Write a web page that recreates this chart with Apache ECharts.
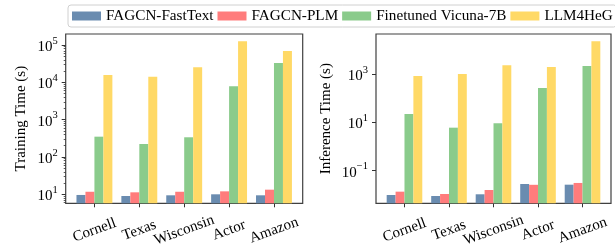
<!DOCTYPE html>
<html>
<head>
<meta charset="utf-8">
<script src="https://cdn.jsdelivr.net/npm/echarts@6/dist/echarts.min.js"></script>
<style>html,body{margin:0;padding:0;background:#fff;}#c{width:615px;height:250px;}</style>
</head>
<body>
<div id="c"></div>
<script>
const categories = ['Cornell', 'Texas', 'Wisconsin', 'Actor', 'Amazon'];
const seriesNames = ['FAGCN-FastText', 'FAGCN-PLM', 'Finetuned Vicuna-7B', 'LLM4HeG'];
const trainFastText = [9.6, 9.0, 9.4, 10.0, 9.4];
const trainPLM = [11.7, 11.3, 11.7, 12.0, 13.3];
const trainVicuna = [350, 223, 337, 7850, 33000];
const trainLLM4HeG = [15800, 14000, 25400, 126000, 69500];
const inferFastText = [0.0098, 0.0089, 0.0105, 0.028, 0.0263];
const inferPLM = [0.0135, 0.0108, 0.0158, 0.026, 0.031];
const inferVicuna = [22.5, 6.1, 9.3, 270, 2210];
const inferLLM4HeG = [850, 1030, 2360, 2010, 23400];
const trainTicks = [10, 100, 1000, 10000, 100000];
const inferTicks = [0.1, 10, 1000];

const colors = ['#6a8cb0', '#ff7c7c', '#8acb8b', '#ffd966'];
const FONT = 'Liberation Serif';
const trainMin = 5.74, trainMax = 197000;
const inferMin = 0.00444, inferMax = 47000;

// minor ticks for left log axis (2..9 x each decade)
const trainMinor = [];
for (let e = 0; e <= 5; e++) for (let m = 2; m <= 9; m++) {
  const v = m * Math.pow(10, e);
  if (v > trainMin && v < trainMax) trainMinor.push(v);
}

function expLabel(v) {
  const e = Math.round(Math.log10(v));
  return '{b|10}{s|' + (e < 0 ? '\u2212' + (-e) : e) + '}';
}
const richLab = {
  b: {fontFamily: FONT, fontSize: 15, color: '#000', lineHeight: 19, verticalAlign: 'bottom'},
  s: {fontFamily: FONT, fontSize: 10.5, color: '#000', lineHeight: 11, verticalAlign: 'top'}
};

function xAxis(gi) {
  return {
    type: 'value', gridIndex: gi, min: -0.64, max: 4.64,
    splitLine: {show: false},
    axisLine: {show: false, onZero: false},
    axisTick: {show: true, length: 4, customValues: [0, 1, 2, 3, 4], lineStyle: {color: '#333', width: 1}},
    axisLabel: {
      customValues: [0, 1, 2, 3, 4],
      formatter: v => categories[Math.round(v)],
      rotate: 20, align: 'center', verticalAlign: 'middle', margin: 27,
      fontFamily: FONT, fontSize: 15, color: '#000'
    }
  };
}

function yMain(gi, min, max, ticks, name, gap) {
  return {
    type: 'log', logBase: 10, gridIndex: gi, position: 'left', min: min, max: max, startValue: min,
    name: name, nameLocation: 'middle', nameGap: gap,
    nameTextStyle: {fontFamily: FONT, fontSize: 15, color: '#000'},
    splitLine: {show: false},
    axisLine: {show: false, onZero: false},
    axisTick: {show: true, length: 4, customValues: ticks, lineStyle: {color: '#333', width: 1}},
    axisLabel: {customValues: ticks, formatter: expLabel, rich: richLab, margin: 8}
  };
}

const trainSets = [trainFastText, trainPLM, trainVicuna, trainLLM4HeG];
const inferSets = [inferFastText, inferPLM, inferVicuna, inferLLM4HeG];
const series = [];
seriesNames.forEach((n, k) => {
  series.push({
    name: n, type: 'bar', xAxisIndex: 0, yAxisIndex: 0,
    barGap: '0%', barCategoryGap: '20%',
    itemStyle: {color: colors[k]},
    data: trainSets[k].map((v, i) => [i, v])
  });
  series.push({
    name: n, type: 'bar', xAxisIndex: 1, yAxisIndex: 2,
    barGap: '0%', barCategoryGap: '20%',
    itemStyle: {color: colors[k]},
    data: inferSets[k].map((v, i) => [i, v])
  });
});

const chart = echarts.init(document.getElementById('c'), null, {renderer: 'canvas'});
chart.setOption({
  animation: false,
  backgroundColor: '#fff',
  textStyle: {fontFamily: FONT, color: '#000'},
  legend: {
    data: seriesNames, left: 68, top: 5, width: 547, icon: 'rect',
    itemWidth: 29, itemHeight: 9, itemGap: 4,
    padding: [3.5, 4, 3.5, 4],
    borderColor: '#d0d0d0', borderWidth: 1, borderRadius: 3,
    textStyle: {fontFamily: FONT, fontSize: 15.2, color: '#000'}
  },
  grid: [
    {left: 65.7, right: 312.3, top: 34, bottom: 46.7, show: true, borderColor: '#404040', borderWidth: 1.2, backgroundColor: 'transparent', containLabel: false},
    {left: 376, right: 4, top: 34, bottom: 46.7, show: true, borderColor: '#404040', borderWidth: 1.2, backgroundColor: 'transparent', containLabel: false}
  ],
  xAxis: [xAxis(0), xAxis(1)],
  yAxis: [
    yMain(0, trainMin, trainMax, trainTicks, 'Training Time (s)', 37.4),
    {
      type: 'log', logBase: 10, gridIndex: 0, position: 'left', offset: 0, min: trainMin, max: trainMax,
      splitLine: {show: false}, axisLine: {show: false, onZero: false}, axisLabel: {show: false},
      axisTick: {show: true, length: 2, customValues: trainMinor, lineStyle: {color: '#333', width: 0.8}}
    },
    yMain(1, inferMin, inferMax, inferTicks, 'Inference Time (s)', 42.7)
  ],
  series: series
});
</script>
</body>
</html>
